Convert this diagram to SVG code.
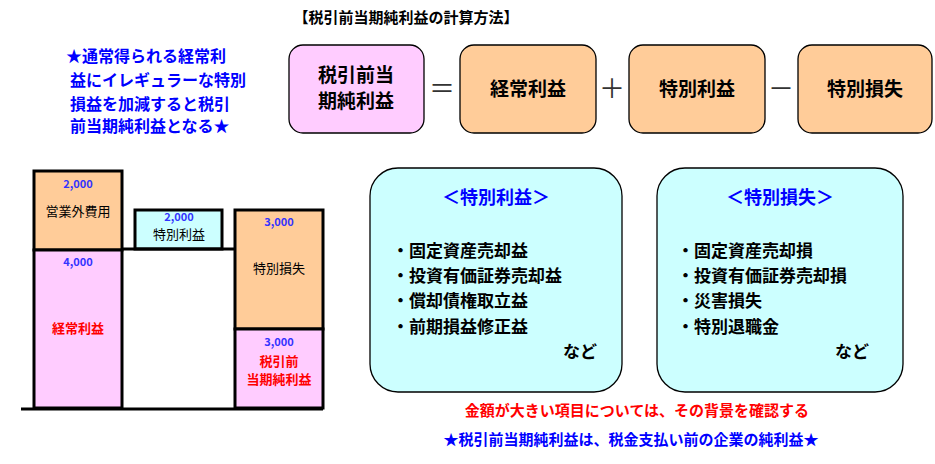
<svg xmlns="http://www.w3.org/2000/svg" width="935" height="464" viewBox="0 0 935 464">
<style>
text{font-family:"Noto Sans CJK JP","Liberation Sans",sans-serif;}
.b{stroke:#000;stroke-width:1.3}
.bar{stroke:#000;stroke-width:3}
.num{fill:#3333ff;font-weight:bold;font-size:11px;text-anchor:middle}
.lbl{font-size:13px;text-anchor:middle}
.red{fill:#ff0000;font-weight:bold;font-size:13px;text-anchor:middle}
.big{font-size:19px;text-anchor:middle;font-weight:bold}
.item{font-size:17px;font-weight:bold}
</style>
<rect width="935" height="464" fill="#fff"/>
<text x="406" y="23" font-size="15" font-weight="bold" text-anchor="middle">【税引前当期純利益の計算方法】</text>
<g fill="#0000ff" font-size="16" font-weight="bold">
<text x="66" y="62">★通常得られる経常利</text>
<text x="70" y="86">益にイレギュラーな特別</text>
<text x="70" y="110">損益を加減すると税引</text>
<text x="70" y="132">前当期純利益となる★</text>
</g>
<g id="n_pre"><rect class="b" x="289" y="45" width="135" height="88" rx="14" fill="#ffccff"/><text class="big" x="356" y="82">税引前当</text><text class="big" x="356" y="108">期純利益</text></g>
<g id="n_keijo"><rect class="b" x="460" y="45" width="136" height="88" rx="14" fill="#ffcc99"/><text class="big" x="528" y="96">経常利益</text></g>
<g id="n_tokurieki"><rect class="b" x="629" y="45" width="136" height="88" rx="14" fill="#ffcc99"/><text class="big" x="697" y="96">特別利益</text></g>
<g id="n_tokuson"><rect class="b" x="798" y="45" width="134" height="88" rx="14" fill="#ffcc99"/><text class="big" x="865" y="96">特別損失</text></g>
<g font-size="26" text-anchor="middle" fill="#333"><text x="442" y="98">＝</text><text x="612" y="98">＋</text><text x="781" y="98">－</text></g>
<g id="chart">
<rect class="bar" x="34" y="171" width="88" height="79" fill="#ffcc99"/>
<rect class="bar" x="34" y="250" width="88" height="158" fill="#ffccff"/>
<rect class="bar" x="135" y="210" width="87" height="39" fill="#ccffff"/>
<rect class="bar" x="235" y="210" width="88" height="119" fill="#ffcc99"/>
<rect class="bar" x="235" y="329" width="88" height="79" fill="#ffccff"/>
<path class="bar" fill="none" d="M122 249H235M21 409H323"/>
<text class="num" x="78" y="188">2,000</text><text class="lbl" x="78" y="216">営業外費用</text>
<text class="num" x="78" y="266">4,000</text><text class="red" x="78" y="333">経常利益</text>
<text class="num" x="179" y="221">2,000</text><text class="lbl" x="179" y="239">特別利益</text>
<text class="num" x="279" y="226">3,000</text><text class="lbl" x="279" y="273">特別損失</text>
<text class="num" x="279" y="346">3,000</text><text class="red" x="279" y="366">税引前</text><text class="red" x="279" y="384">当期純利益</text>
</g>
<g id="n_gain"><rect class="b" x="370" y="168" width="252" height="224" rx="28" fill="#ccffff"/>
<text x="496" y="204" font-size="18" font-weight="bold" fill="#0000ff" text-anchor="middle">＜特別利益＞</text>
<text class="item" x="392" y="257">・固定資産売却益</text><text class="item" x="392" y="282">・投資有価証券売却益</text><text class="item" x="392" y="307">・償却債権取立益</text><text class="item" x="392" y="333">・前期損益修正益</text><text class="item" x="563" y="358">など</text></g>
<g id="n_loss"><rect class="b" x="657" y="168" width="246" height="224" rx="28" fill="#ccffff"/>
<text x="780" y="204" font-size="18" font-weight="bold" fill="#0000ff" text-anchor="middle">＜特別損失＞</text>
<text class="item" x="677" y="257">・固定資産売却損</text><text class="item" x="677" y="282">・投資有価証券売却損</text><text class="item" x="677" y="307">・災害損失</text><text class="item" x="677" y="333">・特別退職金</text><text class="item" x="835" y="358">など</text></g>
<text x="637" y="416" font-size="15" font-weight="bold" fill="#ff0000" text-anchor="middle">金額が大きい項目については、その背景を確認する</text>
<text x="631" y="445" font-size="15" font-weight="bold" fill="#0000ff" text-anchor="middle">★税引前当期純利益は、税金支払い前の企業の純利益★</text>
</svg>
